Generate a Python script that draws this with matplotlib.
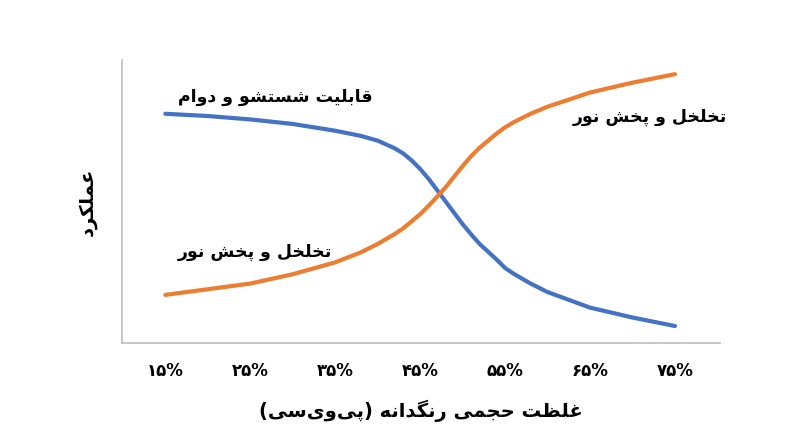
import matplotlib
matplotlib.use("Agg")
import matplotlib.pyplot as plt

# ---- minimal Arabic/Persian shaping ----
FORMS = {
 'ا':(0xFE8D,0xFE8E,None,None),'ب':(0xFE8F,0xFE90,0xFE91,0xFE92),'ت':(0xFE95,0xFE96,0xFE97,0xFE98),
 'ج':(0xFE9D,0xFE9E,0xFE9F,0xFEA0),'ح':(0xFEA1,0xFEA2,0xFEA3,0xFEA4),'خ':(0xFEA5,0xFEA6,0xFEA7,0xFEA8),
 'د':(0xFEA9,0xFEAA,None,None),'ر':(0xFEAD,0xFEAE,None,None),'س':(0xFEB1,0xFEB2,0xFEB3,0xFEB4),
 'ش':(0xFEB5,0xFEB6,0xFEB7,0xFEB8),'ظ':(0xFEC5,0xFEC6,0xFEC7,0xFEC8),'ع':(0xFEC9,0xFECA,0xFECB,0xFECC),
 'غ':(0xFECD,0xFECE,0xFECF,0xFED0),'ق':(0xFED5,0xFED6,0xFED7,0xFED8),'ل':(0xFEDD,0xFEDE,0xFEDF,0xFEE0),
 'م':(0xFEE1,0xFEE2,0xFEE3,0xFEE4),'ن':(0xFEE5,0xFEE6,0xFEE7,0xFEE8),'ه':(0xFEE9,0xFEEA,0xFEEB,0xFEEC),
 'و':(0xFEED,0xFEEE,None,None),'پ':(0xFB56,0xFB57,0xFB58,0xFB59),'ک':(0xFB8E,0xFB8F,0xFB90,0xFB91),
 'گ':(0xFB92,0xFB93,0xFB94,0xFB95),'ی':(0xFBFC,0xFBFD,0xFBFE,0xFBFF),
}
MIRROR = {'(':')', ')':'('}

def shape(s):
    out = []
    n = len(s)
    for i, c in enumerate(s):
        if c not in FORMS:
            if c != '\u200c':
                out.append(MIRROR.get(c, c))
            continue
        prev = s[i-1] if i > 0 else ''
        nxt = s[i+1] if i < n-1 else ''
        jp = prev in FORMS and FORMS[prev][2] is not None
        jn = nxt in FORMS and FORMS[c][2] is not None
        f = FORMS[c]
        if jp and jn: cp = f[3]
        elif jp: cp = f[1]
        elif jn: cp = f[2]
        else: cp = f[0]
        out.append(chr(cp))
    return ''.join(reversed(out))

# ---- data ----
x_ticks = [15, 25, 35, 45, 55, 65, 75]
tick_labels = ['۱۵%', '۲۵%', '۳۵%', '۴۵%', '۵۵%', '۶۵%', '۷۵%']
x_pts = [15, 20, 25, 30, 35, 38, 40, 42, 43, 44, 45, 46, 47, 48, 49, 50, 51, 52, 54, 55, 56, 58, 60, 65, 70, 75]
blue = [81, 80.2, 79, 77.4, 75, 73.2, 71.5, 68.8, 67, 64.5, 61.5, 58, 54, 50, 46, 42, 38.4, 35, 29.5, 26.5, 24.5, 21, 18, 12.5, 9, 6]
orange = [17, 19, 21, 24.3, 28.5, 32, 35, 38.5, 40.5, 43, 45.5, 48.5, 51.7, 55, 58.8, 62.5, 66, 69, 74, 76.2, 78, 81, 83.5, 88.5, 92, 95]

label_blue = 'قابلیت شستشو و دوام'
label_orange = 'تخلخل و پخش نور'
ylabel = 'عملکرد'
xlabel = 'غلظت حجمی رنگدانه (پی\u200cوی\u200cسی)'

plt.rcParams['font.family'] = ['DejaVu Sans', 'Noto Sans']
fig = plt.figure(figsize=(8, 4.47), dpi=100)
ax = fig.add_axes([122/800, 104/447, 598/800, 283/447])
ax.plot(x_pts, blue, color='#4472C4', lw=3, solid_capstyle='round', solid_joinstyle='round')
ax.plot(x_pts, orange, color='#ED7D31', lw=3, solid_capstyle='round', solid_joinstyle='round')
ax.set_xlim(9.9, 80.3)
ax.set_ylim(0, 100)
ax.set_xticks(x_ticks)
ax.set_xticklabels(tick_labels, fontsize=12, fontweight='bold')
ax.set_yticks([])
ax.tick_params(axis='x', length=0, pad=14)
for s in ['top', 'right']:
    ax.spines[s].set_visible(False)
for s in ['left', 'bottom']:
    ax.spines[s].set_color('#bfbfbf')
    ax.spines[s].set_linewidth(1.2)

ax.text(28, 87, shape(label_blue), fontsize=12.5, fontweight='bold', ha='center', va='center')
ax.text(72, 80, shape(label_orange), fontsize=12.5, fontweight='bold', ha='center', va='center')
ax.text(25.5, 32, shape(label_orange), fontsize=12.5, fontweight='bold', ha='center', va='center')
ax.set_ylabel(shape(ylabel), fontsize=14, fontweight='bold', labelpad=18)
ax.set_xlabel(shape(xlabel), fontsize=14, fontweight='bold', labelpad=14)

fig.savefig('out.png', dpi=100)
